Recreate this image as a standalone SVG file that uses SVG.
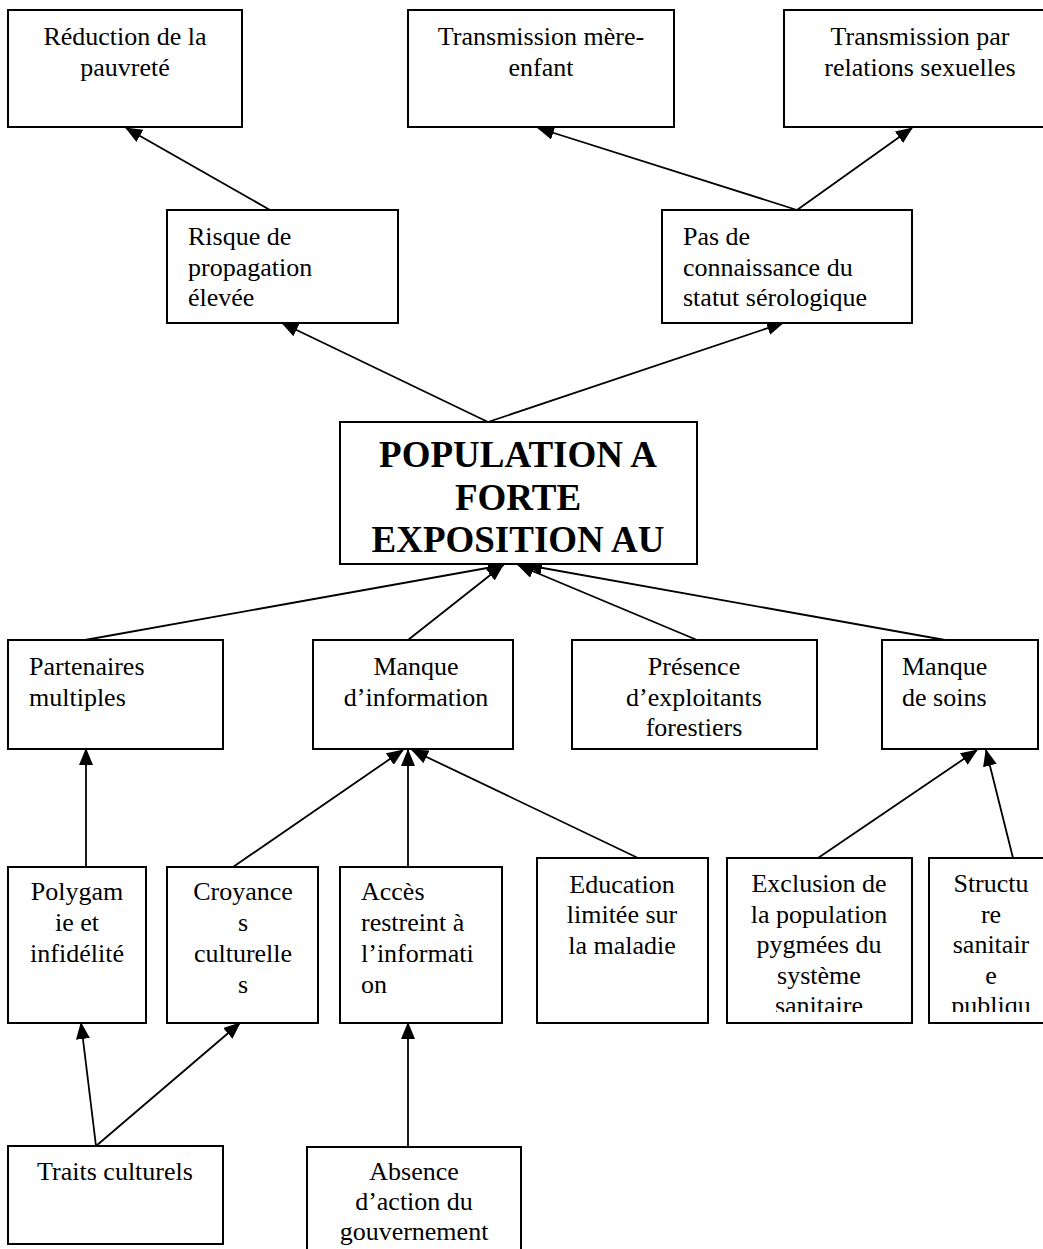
<svg xmlns="http://www.w3.org/2000/svg" width="1043" height="1249" viewBox="0 0 1043 1249">
<style>
.box{fill:#fff;stroke:#000;stroke-width:2}
.t{font-family:"Liberation Serif","Times New Roman",serif;font-size:26px;fill:#000}
.c{text-anchor:middle}
.b{font-weight:bold;font-size:37px}
.ln{stroke:#000;stroke-width:1.8;fill:none;marker-end:url(#ah)}
</style>
<defs>
<marker id="ah" markerUnits="userSpaceOnUse" markerWidth="17" markerHeight="14" refX="16" refY="7" orient="auto">
<path d="M0,0 L17,7 L0,14 z" fill="#000"/>
</marker>
<clipPath id="cpCenter"><rect x="341" y="423" width="355" height="140"/></clipPath>
<clipPath id="cpExcl"><rect x="728" y="859" width="183" height="153"/></clipPath>
<clipPath id="cpStruct"><rect x="930" y="859" width="113" height="153"/></clipPath>
</defs>
<rect width="1043" height="1249" fill="#fff"/>

<g id="connectors">
<line class="ln" x1="270" y1="210" x2="126" y2="128"/>
<line class="ln" x1="797" y1="210" x2="538" y2="128"/>
<line class="ln" x1="797" y1="210" x2="912" y2="128"/>
<line class="ln" x1="488" y1="422" x2="282" y2="323"/>
<line class="ln" x1="488" y1="422" x2="783" y2="323"/>
<line class="ln" x1="85" y1="640" x2="504" y2="565"/>
<line class="ln" x1="408" y1="640" x2="503" y2="565"/>
<line class="ln" x1="697" y1="640" x2="518" y2="565"/>
<line class="ln" x1="945" y1="640" x2="526" y2="565"/>
<line class="ln" x1="86" y1="867" x2="86" y2="749"/>
<line class="ln" x1="233" y1="867" x2="403" y2="750"/>
<line class="ln" x1="408" y1="867" x2="408" y2="750"/>
<line class="ln" x1="638" y1="858" x2="412" y2="750"/>
<line class="ln" x1="818" y1="858" x2="977" y2="750"/>
<line class="ln" x1="1013" y1="858" x2="986" y2="750"/>
<line class="ln" x1="96" y1="1146" x2="81" y2="1023"/>
<line class="ln" x1="96" y1="1146" x2="240" y2="1023"/>
<line class="ln" x1="408" y1="1147" x2="408" y2="1023"/>
</g>

<g id="n-reduction">
<rect class="box" x="8" y="10" width="234" height="117"/>
<text class="t c" x="125" y="45">Réduction de la</text>
<text class="t c" x="125" y="76">pauvreté</text>
</g>
<g id="n-mere-enfant">
<rect class="box" x="408" y="10" width="266" height="117"/>
<text class="t c" x="541" y="45">Transmission mère-</text>
<text class="t c" x="541" y="76">enfant</text>
</g>
<g id="n-sexuelles">
<rect class="box" x="784" y="10" width="272" height="117"/>
<text class="t c" x="920" y="45">Transmission par</text>
<text class="t c" x="920" y="76">relations sexuelles</text>
</g>
<g id="n-risque">
<rect class="box" x="167" y="210" width="231" height="113"/>
<text class="t" x="188" y="245">Risque de</text>
<text class="t" x="188" y="276">propagation</text>
<text class="t" x="188" y="306">élevée</text>
</g>
<g id="n-statut">
<rect class="box" x="662" y="210" width="250" height="113"/>
<text class="t" x="683" y="245">Pas de</text>
<text class="t" x="683" y="276">connaissance du</text>
<text class="t" x="683" y="306">statut sérologique</text>
</g>
<g id="n-center">
<rect class="box" x="340" y="422" width="357" height="142"/>
<g clip-path="url(#cpCenter)">
<text class="t b c" x="518" y="467">POPULATION A</text>
<text class="t b c" x="518" y="510">FORTE</text>
<text class="t b c" x="518" y="552">EXPOSITION AU</text>
</g>
</g>
<g id="n-partenaires">
<rect class="box" x="8" y="640" width="215" height="109"/>
<text class="t" x="29" y="675">Partenaires</text>
<text class="t" x="29" y="706">multiples</text>
</g>
<g id="n-manque-info">
<rect class="box" x="313" y="640" width="200" height="109"/>
<text class="t c" x="416" y="675">Manque</text>
<text class="t c" x="416" y="706">d’information</text>
</g>
<g id="n-presence">
<rect class="box" x="572" y="640" width="245" height="109"/>
<text class="t c" x="694" y="675">Présence</text>
<text class="t c" x="694" y="706">d’exploitants</text>
<text class="t c" x="694" y="736">forestiers</text>
</g>
<g id="n-manque-soins">
<rect class="box" x="882" y="640" width="156" height="109"/>
<text class="t" x="902" y="675">Manque</text>
<text class="t" x="902" y="706">de soins</text>
</g>
<g id="n-polygamie">
<rect class="box" x="8" y="867" width="138" height="156"/>
<text class="t c" x="77" y="900">Polygam</text>
<text class="t c" x="77" y="931">ie et</text>
<text class="t c" x="77" y="962">infidélité</text>
</g>
<g id="n-croyances">
<rect class="box" x="167" y="867" width="151" height="156"/>
<text class="t c" x="243" y="900">Croyance</text>
<text class="t c" x="243" y="931">s</text>
<text class="t c" x="243" y="962">culturelle</text>
<text class="t c" x="243" y="993">s</text>
</g>
<g id="n-acces">
<rect class="box" x="340" y="867" width="162" height="156"/>
<text class="t" x="361" y="900">Accès</text>
<text class="t" x="361" y="931">restreint à</text>
<text class="t" x="361" y="962">l’informati</text>
<text class="t" x="361" y="993">on</text>
</g>
<g id="n-education">
<rect class="box" x="537" y="858" width="171" height="165"/>
<text class="t c" x="622" y="893">Education</text>
<text class="t c" x="622" y="923">limitée sur</text>
<text class="t c" x="622" y="954">la maladie</text>
</g>
<g id="n-exclusion">
<rect class="box" x="727" y="858" width="185" height="165"/>
<g clip-path="url(#cpExcl)">
<text class="t c" x="819" y="892">Exclusion de</text>
<text class="t c" x="819" y="923">la population</text>
<text class="t c" x="819" y="953">pygmées du</text>
<text class="t c" x="819" y="984">système</text>
<text class="t c" x="819" y="1014">sanitaire</text>
</g>
</g>
<g id="n-structure">
<rect class="box" x="929" y="858" width="124" height="165"/>
<g clip-path="url(#cpStruct)">
<text class="t c" x="991" y="892">Structu</text>
<text class="t c" x="991" y="923">re</text>
<text class="t c" x="991" y="953">sanitair</text>
<text class="t c" x="991" y="984">e</text>
<text class="t c" x="991" y="1014">publiqu</text>
</g>
</g>
<g id="n-traits">
<rect class="box" x="8" y="1146" width="215" height="98"/>
<text class="t c" x="115" y="1180">Traits culturels</text>
</g>
<g id="n-absence">
<rect class="box" x="307" y="1147" width="214" height="110"/>
<text class="t c" x="414" y="1180">Absence</text>
<text class="t c" x="414" y="1210">d’action du</text>
<text class="t c" x="414" y="1240">gouvernement</text>
</g>
</svg>
